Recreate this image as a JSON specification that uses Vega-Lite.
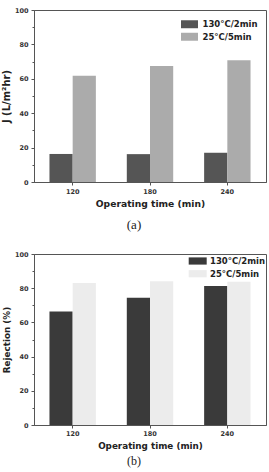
{
  "$schema": "https://vega.github.io/schema/vega-lite/v6.json",
  "background": "white",
  "padding": {"left": 1, "top": 6, "right": 1, "bottom": 0},
  "spacing": 17,
  "datasets": {
    "flux": [
      {"time": "120", "condition": "130°C/2min", "value": 16.3},
      {"time": "120", "condition": "25°C/5min", "value": 61.8},
      {"time": "180", "condition": "130°C/2min", "value": 16.2},
      {"time": "180", "condition": "25°C/5min", "value": 67.4},
      {"time": "240", "condition": "130°C/2min", "value": 17.0},
      {"time": "240", "condition": "25°C/5min", "value": 70.8}
    ],
    "rejection": [
      {"time": "120", "condition": "130°C/2min", "value": 66.4},
      {"time": "120", "condition": "25°C/5min", "value": 83.0},
      {"time": "180", "condition": "130°C/2min", "value": 74.4},
      {"time": "180", "condition": "25°C/5min", "value": 84.0},
      {"time": "240", "condition": "130°C/2min", "value": 81.3},
      {"time": "240", "condition": "25°C/5min", "value": 83.8}
    ]
  },
  "config": {
    "font": "DejaVu Sans",
    "view": {"stroke": "#555555", "strokeWidth": 1},
    "axis": {
      "grid": false,
      "domainColor": "#555555",
      "tickColor": "#555555",
      "tickSize": 3,
      "labelFont": "DejaVu Sans",
      "labelFontSize": 6.5,
      "labelFontWeight": "bold",
      "labelColor": "#333333",
      "titleFont": "DejaVu Sans",
      "titleFontWeight": "bold",
      "titleColor": "#222222"
    },
    "axisY": {
      "labelPadding": 3,
      "minExtent": 20,
      "maxExtent": 20,
      "titlePadding": 2.5,
      "labelOverlap": false,
      "labelExpr": "datum.value % 20 === 0 ? datum.label : ''",
      "tickSize": {"condition": {"test": "datum.value % 20 === 0", "value": 3}, "value": 2}
    },
    "legend": {
      "labelFont": "DejaVu Sans",
      "labelFontSize": 8.5,
      "labelFontWeight": "bold",
      "labelColor": "#222222",
      "padding": 0
    },
    "title": {"font": "Liberation Serif", "fontSize": 13, "fontWeight": "normal", "color": "#222222"}
  },
  "resolve": {"scale": {"color": "independent"}},
  "vconcat": [
    {
      "width": 232,
      "height": 172,
      "data": {"name": "flux"},
      "title": {"text": "(a)", "orient": "bottom", "dx": -16, "offset": 10},
      "mark": {"type": "bar"},
      "encoding": {
        "x": {"field": "time", "type": "ordinal", "scale": {"paddingInner": 0.4, "paddingOuter": 0.2},
              "axis": {"title": "Operating time (min)", "labelAngle": 0, "labelPadding": 3, "titlePadding": 5, "titleFontSize": 9.2}},
        "xOffset": {"field": "condition", "sort": ["130°C/2min", "25°C/5min"]},
        "y": {"field": "value", "type": "quantitative", "scale": {"domain": [0, 100]},
              "axis": {"title": "J (L/m²hr)", "values": [0, 10, 20, 30, 40, 50, 60, 70, 80, 90, 100], "titleFontSize": 10}},
        "color": {"field": "condition", "type": "nominal",
                  "scale": {"domain": ["130°C/2min", "25°C/5min"], "range": ["#555555", "#ababab"]},
                  "legend": {"title": null, "orient": "none", "legendX": 151, "legendY": 9.75,
                             "symbolType": "M-2,-0.94H2V0.94H-2Z", "symbolSize": 72, "symbolStrokeWidth": 0,
                             "labelOffset": 8.5, "rowPadding": 3.5}}
      }
    },
    {
      "width": 232,
      "height": 171,
      "data": {"name": "rejection"},
      "title": {"text": "(b)", "orient": "bottom", "dx": -16, "offset": 6, "fontSize": 12},
      "mark": {"type": "bar"},
      "encoding": {
        "x": {"field": "time", "type": "ordinal", "scale": {"paddingInner": 0.4, "paddingOuter": 0.2},
              "axis": {"title": "Operating time (min)", "labelAngle": 0, "labelPadding": 2, "titlePadding": 5, "titleFontSize": 8.8}},
        "xOffset": {"field": "condition", "sort": ["130°C/2min", "25°C/5min"]},
        "y": {"field": "value", "type": "quantitative", "scale": {"domain": [0, 100]},
              "axis": {"title": "Rejection (%)", "values": [0, 10, 20, 30, 40, 50, 60, 70, 80, 90, 100], "titleFontSize": 8.8}},
        "color": {"field": "condition", "type": "nominal",
                  "scale": {"domain": ["130°C/2min", "25°C/5min"], "range": ["#3a3a3a", "#ececec"]},
                  "legend": {"title": null, "orient": "none", "legendX": 159.2, "legendY": 2.5,
                             "symbolType": "M-2,-0.8H2V0.8H-2Z", "symbolSize": 81, "symbolStrokeWidth": 0,
                             "labelOffset": 7.8, "rowPadding": 3.7}}
      }
    }
  ]
}
